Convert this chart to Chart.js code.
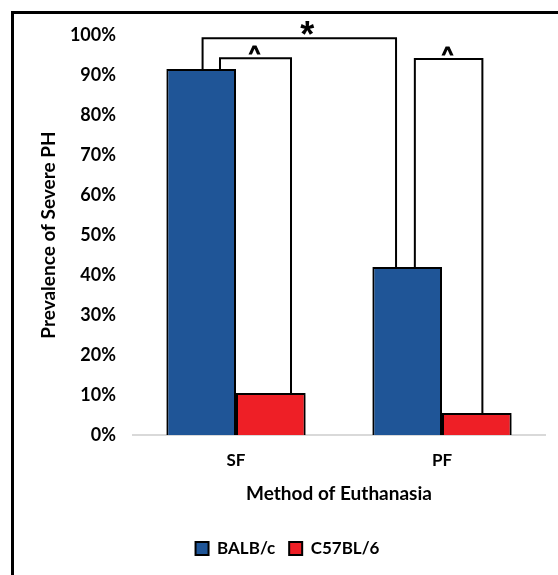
<!DOCTYPE html>
<html>
<head>
<meta charset="utf-8">
<script src="https://cdn.jsdelivr.net/npm/chart.js@4"></script>
<style>
  html, body { margin: 0; padding: 0; background: #fff; }
  #wrap { width: 558px; height: 575px; }
</style>
</head>
<body>
<div id="wrap"><canvas id="myChart" width="558" height="575"></canvas></div>
<script>
let categories = ['SF', 'PF'];
let balbValues = [91.5, 42];
let c57Values = [10.5, 5.5];
let seriesNames = ['BALB/c', 'C57BL/6'];
let colorHex = ['#1f5597', '#ee1f26'];

let fontName = 'Lato, "Open Sans", sans-serif';
let markFont = '"Liberation Sans", Arial, sans-serif';

// significance brackets: [dataset, index, offset as fraction of bar width]
let brackets = [
  { a: [0, 0, 0.02], b: [0, 1, -0.16], top: 99.2, mark: '*', size: 36, dx: 8, dy: -10, thick: 0 },
  { a: [0, 0, 0.27], b: [1, 0, 0.29], top: 94.2, mark: '^', size: 19, dx: -1, dy: -8, thick: 1.2 },
  { a: [0, 1, 0.11], b: [1, 1, 0.08], top: 94.0, mark: '^', size: 19, dx: -1, dy: -8, thick: 1.2 }
];

let framePlugin = {
  id: 'frame',
  beforeDraw: (chart) => {
    let c = chart.ctx;
    c.save();
    c.fillStyle = '#fff';
    c.fillRect(0, 0, chart.width, chart.height);
    c.strokeStyle = '#000';
    c.lineWidth = 3;
    c.beginPath();
    c.moveTo(12.5, chart.height);
    c.lineTo(12.5, 12.5);
    c.lineTo(chart.width, 12.5);
    c.stroke();
    c.restore();
  }
};

// soft shadow behind the bars
let shadowPlugin = {
  id: 'barShadow',
  beforeDatasetsDraw: (chart) => {
    let c = chart.ctx;
    c.save();
    c.shadowColor = 'rgba(0, 0, 0, 0.22)';
    c.shadowBlur = 4;
    c.shadowOffsetX = 2;
    c.shadowOffsetY = 1;
  },
  afterDatasetsDraw: (chart) => {
    chart.ctx.restore();
  }
};

let bracketPlugin = {
  id: 'brackets',
  afterDatasetsDraw: (chart) => {
    let c = chart.ctx;
    let yScale = chart.scales.y;
    c.save();
    c.strokeStyle = '#000';
    c.lineJoin = 'miter';
    brackets.forEach((br) => {
      let barA = chart.getDatasetMeta(br.a[0]).data[br.a[1]];
      let barB = chart.getDatasetMeta(br.b[0]).data[br.b[1]];
      let xa = barA.x + br.a[2] * barA.width;
      let xb = barB.x + br.b[2] * barB.width;
      let yt = yScale.getPixelForValue(br.top);
      c.lineWidth = 2;
      c.beginPath();
      c.moveTo(xa, barA.y);
      c.lineTo(xa, yt);
      c.lineTo(xb, yt);
      c.lineTo(xb, barB.y);
      c.stroke();
      // centre the glyph itself on the wanted point
      c.fillStyle = '#000';
      c.font = 'bold ' + br.size + 'px ' + markFont;
      c.textAlign = 'center';
      c.textBaseline = 'alphabetic';
      let m = c.measureText(br.mark);
      let cy = yt + br.dy;
      let base = cy + (m.actualBoundingBoxAscent - m.actualBoundingBoxDescent) / 2;
      let tx = (xa + xb) / 2 + br.dx;
      c.fillText(br.mark, tx, base);
      if (br.thick) {
        c.lineWidth = br.thick;
        c.strokeText(br.mark, tx, base);
      }
    });
    c.restore();
  }
};

let ctx = document.getElementById('myChart').getContext('2d');

let myChart = new Chart(ctx, {
  type: 'bar',
  data: {
    labels: categories,
    datasets: [{
      label: seriesNames[0],
      data: balbValues,
      backgroundColor: colorHex[0],
      borderColor: '#000',
      borderWidth: 2
    }, {
      label: seriesNames[1],
      data: c57Values,
      backgroundColor: colorHex[1],
      borderColor: '#000',
      borderWidth: 2
    }]
  },
  options: {
    responsive: false,
    animation: false,
    categoryPercentage: 0.676,
    barPercentage: 1,
    layout: {
      padding: { left: 30, right: 13, top: 35, bottom: 8 }
    },
    plugins: {
      legend: {
        position: 'bottom',
        labels: {
          color: '#000',
          boxWidth: 13,
          boxHeight: 13,
          padding: 14,
          font: { family: fontName, weight: 'bold', size: 17 }
        }
      },
      tooltip: { enabled: false }
    },
    scales: {
      x: {
        grid: { display: false, drawTicks: false },
        border: { display: true, color: '#d9d9d9', width: 2 },
        ticks: {
          color: '#000',
          padding: 18,
          font: { family: fontName, weight: 'bold', size: 17, lineHeight: 0.9 }
        },
        title: {
          display: true,
          text: 'Method of Euthanasia',
          color: '#000',
          padding: { top: 0, bottom: 24.5 },
          font: { family: fontName, weight: 'bold', size: 19, lineHeight: 0.8 }
        }
      },
      y: {
        min: 0,
        max: 100,
        afterFit: (scale) => { scale.width = 103; },
        grid: { display: false, drawTicks: false },
        border: { display: false },
        ticks: {
          stepSize: 10,
          color: '#000',
          padding: 17,
          font: { family: fontName, weight: 'bold', size: 18 },
          callback: (value) => value + '%'
        },
        title: {
          display: true,
          text: 'Prevalence of Severe PH',
          color: '#000',
          padding: { top: 7, bottom: 0 },
          font: { family: fontName, weight: 'bold', size: 19 }
        }
      }
    }
  },
  plugins: [framePlugin, shadowPlugin, bracketPlugin]
});
</script>
</body>
</html>
